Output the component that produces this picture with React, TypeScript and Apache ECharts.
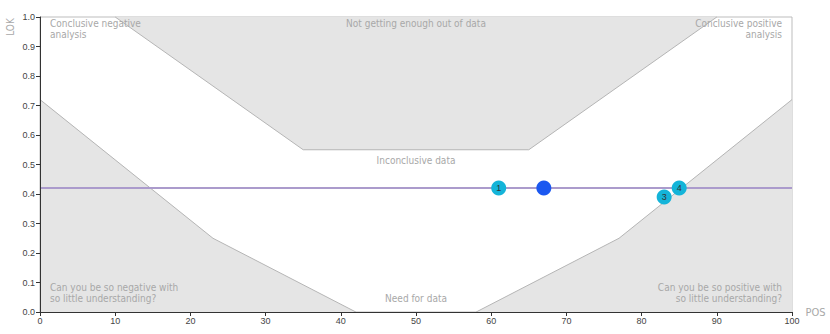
import React, { useEffect, useRef } from "react";
import * as echarts from "echarts";

const topRegion: number[][] = [[10, 1], [35, 0.55], [65, 0.55], [90, 1]];
const bottomLeftRegion: number[][] = [[0, 0.72], [23, 0.25], [42, 0], [0, 0]];
const bottomRightRegion: number[][] = [[58, 0], [77, 0.25], [100, 0.72], [100, 0]];
const topEdge: number[][] = [[10, 1], [35, 0.55], [65, 0.55], [90, 1]];
const bottomLeftEdge: number[][] = [[0, 0.72], [23, 0.25], [42, 0]];
const bottomRightEdge: number[][] = [[58, 0], [77, 0.25], [100, 0.72]];

const refLineX = [0, 100];
const refLineY = 0.42;

const studyPoints: (number | string)[][] = [
  [61, 0.42, "1"],
  [83, 0.39, "3"],
  [85, 0.42, "4"],
];
const pooledPoint: number[][] = [[67, 0.42]];

const xTicks = { min: 0, max: 100, interval: 10 };
const yTicks = { min: 0, max: 1, interval: 0.1 };

const FONT = "'DejaVu Sans Condensed', 'Liberation Sans Narrow', Roboto, sans-serif";
const LABEL_GRAY = "#a8a8a8";

export default function App() {
  const ref = useRef<HTMLDivElement>(null);
  useEffect(() => {
    if (!ref.current) return;
    document.body.style.margin = "0";
    const chart = echarts.init(ref.current, undefined, { renderer: "svg" });
    const polys = [topRegion, bottomLeftRegion, bottomRightRegion];
    const edges = [topEdge, bottomLeftEdge, bottomRightEdge];
    const txt = (text: string, x: number, y: number, align: string, vAlign = "top") => ({
      type: "text",
      x,
      y,
      style: {
        text,
        fill: LABEL_GRAY,
        font: `10px ${FONT}`,
        align,
        verticalAlign: vAlign,
        lineHeight: 11,
      },
      z: 10,
    });
    chart.setOption({
      animation: false,
      grid: {
        left: 40,
        top: 17,
        right: 38,
        bottom: 22,
        show: true,
        borderColor: "#bdbdbd",
        borderWidth: 1,
        backgroundColor: "transparent",
      },
      xAxis: {
        type: "value",
        min: xTicks.min,
        max: xTicks.max,
        interval: xTicks.interval,
        z: 5,
        name: "POS",
        nameLocation: "end",
        nameGap: 6,
        nameTextStyle: { color: "#a8a8a8", fontSize: 11, fontFamily: FONT },
        axisLine: { lineStyle: { color: "#333", width: 1 } },
        axisTick: { show: true, length: 4, lineStyle: { color: "#333" } },
        axisLabel: { color: "#444", fontSize: 9, margin: 4 },
        splitLine: { show: false },
      },
      yAxis: {
        type: "value",
        min: yTicks.min,
        max: yTicks.max,
        interval: yTicks.interval,
        z: 5,
        axisLine: { show: true, lineStyle: { color: "#333", width: 1 } },
        axisTick: { show: true, length: 4, lineStyle: { color: "#333" } },
        axisLabel: { color: "#444", fontSize: 9, margin: 5, formatter: (v: number) => v.toFixed(1) },
        splitLine: { show: false },
      },
      graphic: [
        {
          type: "text",
          x: 10,
          y: 27,
          rotation: Math.PI / 2,
          style: { text: "LOK", fill: LABEL_GRAY, font: `10px ${FONT}`, align: "center", verticalAlign: "middle" },
        },
        txt("Conclusive negative\nanalysis", 50, 18, "left"),
        txt("Conclusive positive\nanalysis", 782, 18, "right"),
        txt("Not getting enough out of data", 416, 18, "center"),
        txt("Inconclusive data", 416, 155, "center"),
        txt("Need for data", 416, 293, "center"),
        txt("Can you be so negative with\nso little understanding?", 50, 304, "left", "bottom"),
        txt("Can you be so positive with\nso little understanding?", 782, 304, "right", "bottom"),
      ],
      series: [
        {
          type: "custom",
          z: 1,
          silent: true,
          data: polys.map((_, i) => [i]),
          renderItem: (params: any, api: any) => {
            const poly = polys[params.dataIndex];
            return {
              type: "polygon",
              shape: { points: poly.map((p) => api.coord(p)) },
              style: { fill: "#e5e5e5", stroke: "none" },
            };
          },
        },
        {
          type: "custom",
          z: 2,
          silent: true,
          data: edges.map((_, i) => [i]),
          renderItem: (params: any, api: any) => {
            const e = edges[params.dataIndex];
            return {
              type: "polyline",
              shape: { points: e.map((p) => api.coord(p)) },
              style: { fill: "none", stroke: "#b5b5b5", lineWidth: 1 },
            };
          },
        },
        {
          type: "line",
          z: 3,
          data: refLineX.map((x) => [x, refLineY]),
          symbol: "none",
          lineStyle: { color: "#ab9bcc", width: 2 },
          silent: true,
        },
        {
          type: "scatter",
          z: 4,
          data: studyPoints,
          symbolSize: 15,
          itemStyle: { color: "#14b4d9", opacity: 1 },
          label: {
            show: true,
            position: "inside",
            formatter: (p: any) => p.data[2],
            color: "#333",
            fontSize: 9,
          },
        },
        {
          type: "scatter",
          z: 4,
          data: pooledPoint,
          symbolSize: 15,
          itemStyle: { color: "#1b58f0", opacity: 1 },
        },
      ],
    });
    return () => chart.dispose();
  }, []);
  return <div ref={ref} style={{ width: 830, height: 334 }} />;
}
